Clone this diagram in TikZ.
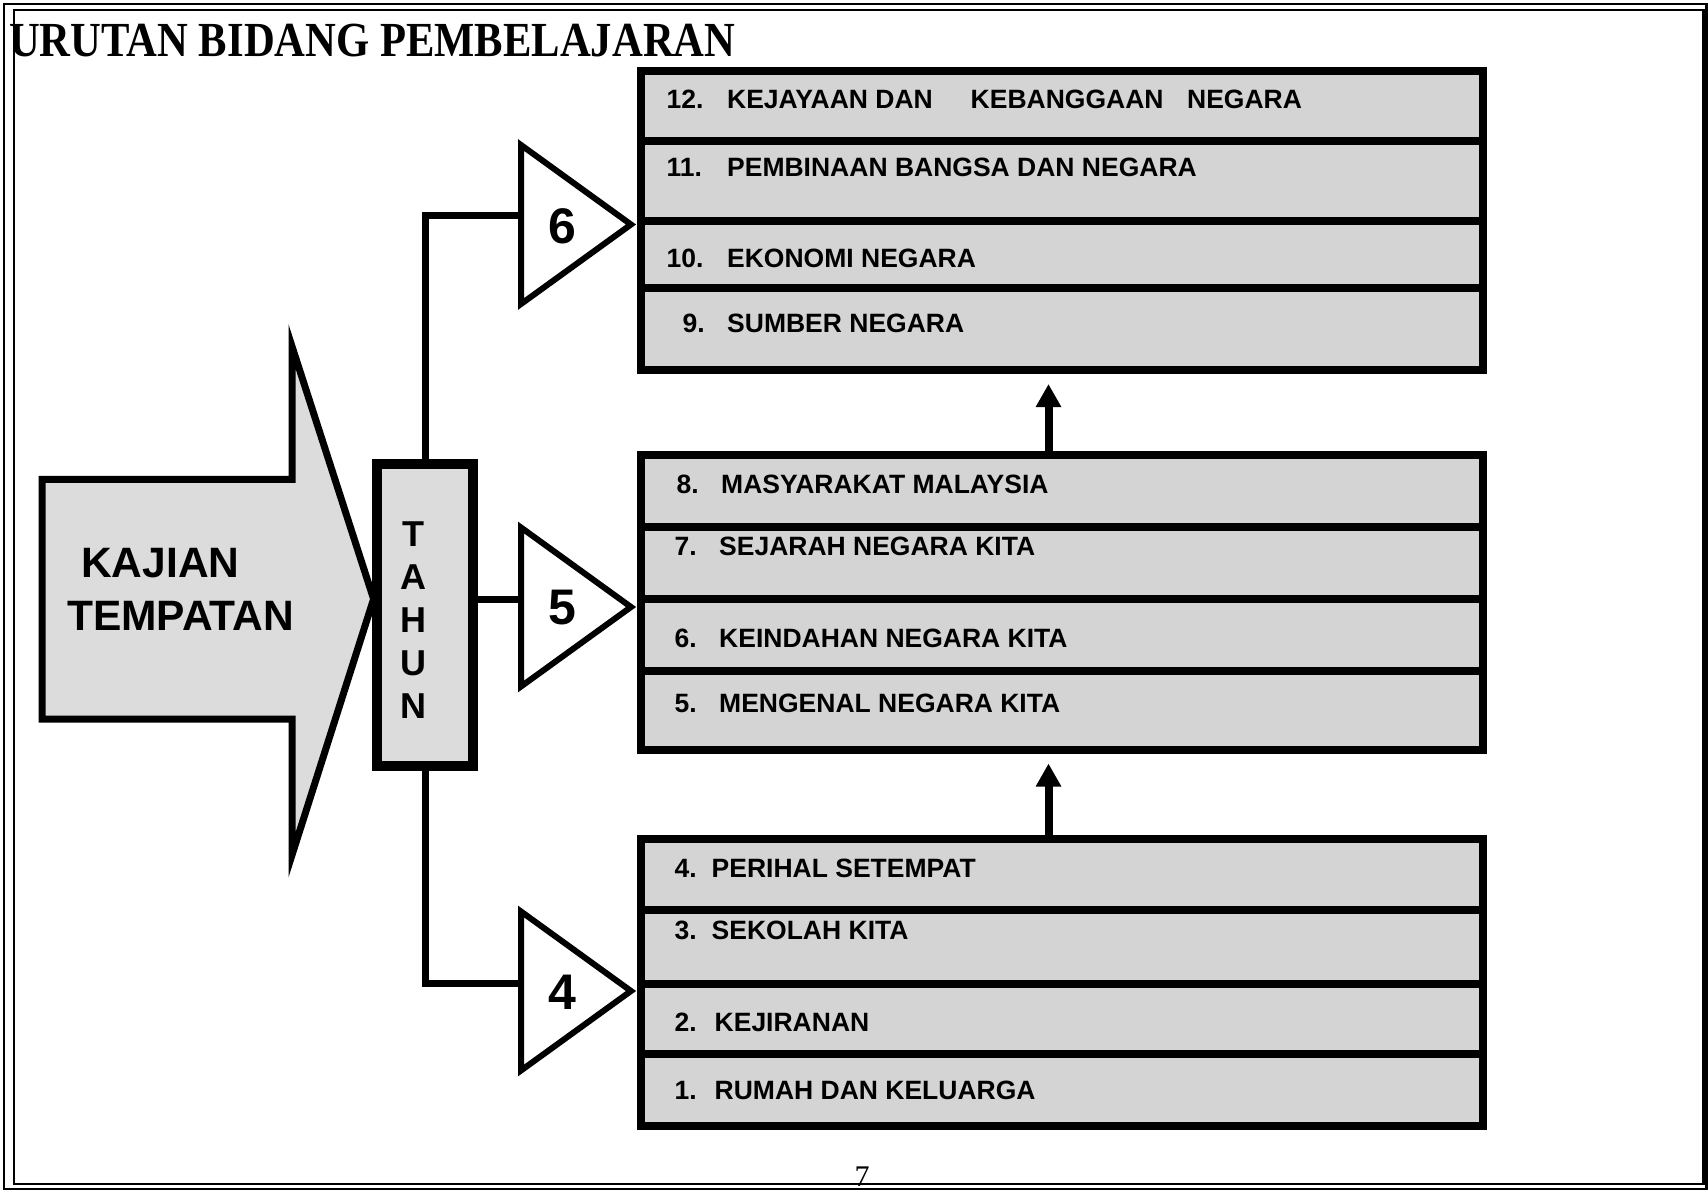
\documentclass[tikz,border=0pt]{standalone}
\usepackage{fontspec}
\setmainfont{Liberation Serif}
\newfontfamily\sffb{Liberation Sans}
\newfontfamily\titlef[FakeStretch=0.87]{Liberation Serif}
\usetikzlibrary{shapes.geometric,arrows.meta,calc}
\definecolor{boxgray}{RGB}{212,212,212}
\definecolor{lightgray2}{RGB}{220,220,220}
\begin{document}
\begin{tikzpicture}[x=1pt,y=-1pt,
 rowbox/.style={draw, line width=8pt, fill=boxgray, minimum width=842pt, inner sep=0pt, outer sep=0pt},
 rowtext/.style={anchor=base west, inner sep=0pt, font=\sffb\bfseries\fontsize{26.5}{30}\selectfont},
 tri/.style={draw, line width=6pt, fill=white, shape=isosceles triangle, isosceles triangle stretches, minimum width=159pt, minimum height=110pt, inner sep=0pt, outer sep=0pt, anchor=west},
 trinum/.style={font=\sffb\bfseries\fontsize{50}{60}\selectfont, inner sep=0pt},
 conn/.style={line width=7pt},
 uparr/.style={line width=8pt, -{Triangle[length=23pt,width=24pt]}},
 bigtext/.style={anchor=base west, inner sep=0pt, font=\sffb\bfseries\fontsize{42.5}{50}\selectfont},
 tahunletter/.style={anchor=base, inner sep=0pt, font=\sffb\bfseries\fontsize{36}{40}\selectfont},
 frameline/.style={draw, line width=2.2pt}
]
\useasboundingbox (0,0) rectangle (1708,1190);
% page frame
\draw[frameline] (3.7,3.7) rectangle (1706.5,1189);
\draw[frameline] (14,10.3) rectangle (1703.5,1184);

% title
\node[anchor=base west, inner sep=0pt, font=\titlef\bfseries\fontsize{49}{55}\selectfont] (title) at (9,56.6) {URUTAN BIDANG PEMBELAJARAN};

% rows: top group
\node[rowbox, minimum height=69.7pt] (r12) at (1061.5,106.15) {};
\node[rowbox, minimum height=80pt] (r11) at (1061.5,181) {};
\node[rowbox, minimum height=67pt] (r10) at (1061.5,254.5) {};
\node[rowbox, minimum height=82pt] (r9) at (1061.5,329) {};
% middle group
\node[rowbox, minimum height=72pt] (r8) at (1061.5,491) {};
\node[rowbox, minimum height=72pt] (r7) at (1061.5,563) {};
\node[rowbox, minimum height=72pt] (r6) at (1061.5,635) {};
\node[rowbox, minimum height=78.5pt] (r5) at (1061.5,710.25) {};
% bottom group
\node[rowbox, minimum height=70.6pt] (r4) at (1061.5,874.3) {};
\node[rowbox, minimum height=74pt] (r3) at (1061.5,946.6) {};
\node[rowbox, minimum height=70.8pt] (r2) at (1061.5,1019) {};
\node[rowbox, minimum height=71.9pt] (r1) at (1061.5,1090.35) {};

% row texts
\node[rowtext] (t12) at (666.5,108.8) {\makebox[60.5pt][l]{12.}\makebox[243.6pt][l]{KEJAYAAN DAN}\makebox[216.4pt][l]{KEBANGGAAN}NEGARA};
\node[rowtext] (t11) at (666.5,176.5) {\makebox[60.5pt][l]{11.}PEMBINAAN BANGSA DAN NEGARA};
\node[rowtext] (t10) at (666.5,268) {\makebox[60.5pt][l]{10.}EKONOMI NEGARA};
\node[rowtext] (t9) at (682.5,333) {\makebox[44.5pt][l]{9.}SUMBER NEGARA};
\node[rowtext] (t8) at (676.5,493) {\makebox[44.5pt][l]{8.}MASYARAKAT MALAYSIA};
\node[rowtext] (t7) at (674.5,555) {\makebox[44.5pt][l]{7.}SEJARAH NEGARA KITA};
\node[rowtext] (t6) at (674.5,647.5) {\makebox[44.5pt][l]{6.}KEINDAHAN NEGARA KITA};
\node[rowtext] (t5) at (674.5,712) {\makebox[44.5pt][l]{5.}MENGENAL NEGARA KITA};
\node[rowtext] (t4) at (674.5,877.5) {\makebox[37pt][l]{4.}PERIHAL SETEMPAT};
\node[rowtext] (t3) at (674.5,939) {\makebox[37pt][l]{3.}SEKOLAH KITA};
\node[rowtext] (t2) at (674.5,1031.5) {\makebox[40pt][l]{2.}KEJIRANAN};
\node[rowtext] (t1) at (674.5,1099) {\makebox[40pt][l]{1.}RUMAH DAN KELUARGA};

% up arrows between groups
\coordinate (ax) at (1048.5,0);
\draw[uparr] (ax |- r8.north) -- ($(ax |- r9.south)+(0,14)$);
\draw[uparr] (ax |- r4.north) -- ($(ax |- r5.south)+(0,14)$);

% big arrow KAJIAN TEMPATAN
\draw[line width=7pt, fill=lightgray2, line join=miter]
  (42,479.3) -- (292,479.3) -- (292,346.4) -- (373.6,599) -- (292,855) -- (292,719) -- (42,719) -- cycle;
\coordinate (bigtip) at (373.6,599);
\node[bigtext] (kaj1) at (81,577) {KAJIAN};
\node[bigtext] (kaj2) at (67,630) {TEMPATAN};

% triangles
\node[tri] (tri6) at (521,224.5) {};
\node[tri] (tri5) at (521,607) {};
\node[tri] (tri4) at (521,991) {};
\node[trinum] (n6) at (562,226) {6};
\node[trinum] (n5) at (562,608) {5};
\node[trinum] (n4) at (562,992) {4};

% TAHUN box
\node[draw, line width=10pt, fill=lightgray2, minimum width=96pt, minimum height=302pt, inner sep=0pt, outer sep=0pt] (tahun) at (425.3,615) {};
\foreach \l [count=\i] in {T,A,H,U,N}
  \node[tahunletter] (tl\i) at (413,{546+43*(\i-1)}) {\l};

% connectors
\coordinate (c6) at ([yshift=8.5pt]tri6.west);
\coordinate (c5) at ([yshift=7.5pt]tri5.west);
\coordinate (c4) at ([yshift=7.5pt]tri4.west);
\draw[conn] (tahun.north) |- (c6);
\draw[conn] (c5 -| tahun.east) -- (c5);
\draw[conn] (tahun.south) |- (c4);

% page number
\node[anchor=base, inner sep=0pt, font=\fontsize{30}{34}\selectfont] (pnum) at (862,1186) {7};
\end{tikzpicture}
\end{document}
